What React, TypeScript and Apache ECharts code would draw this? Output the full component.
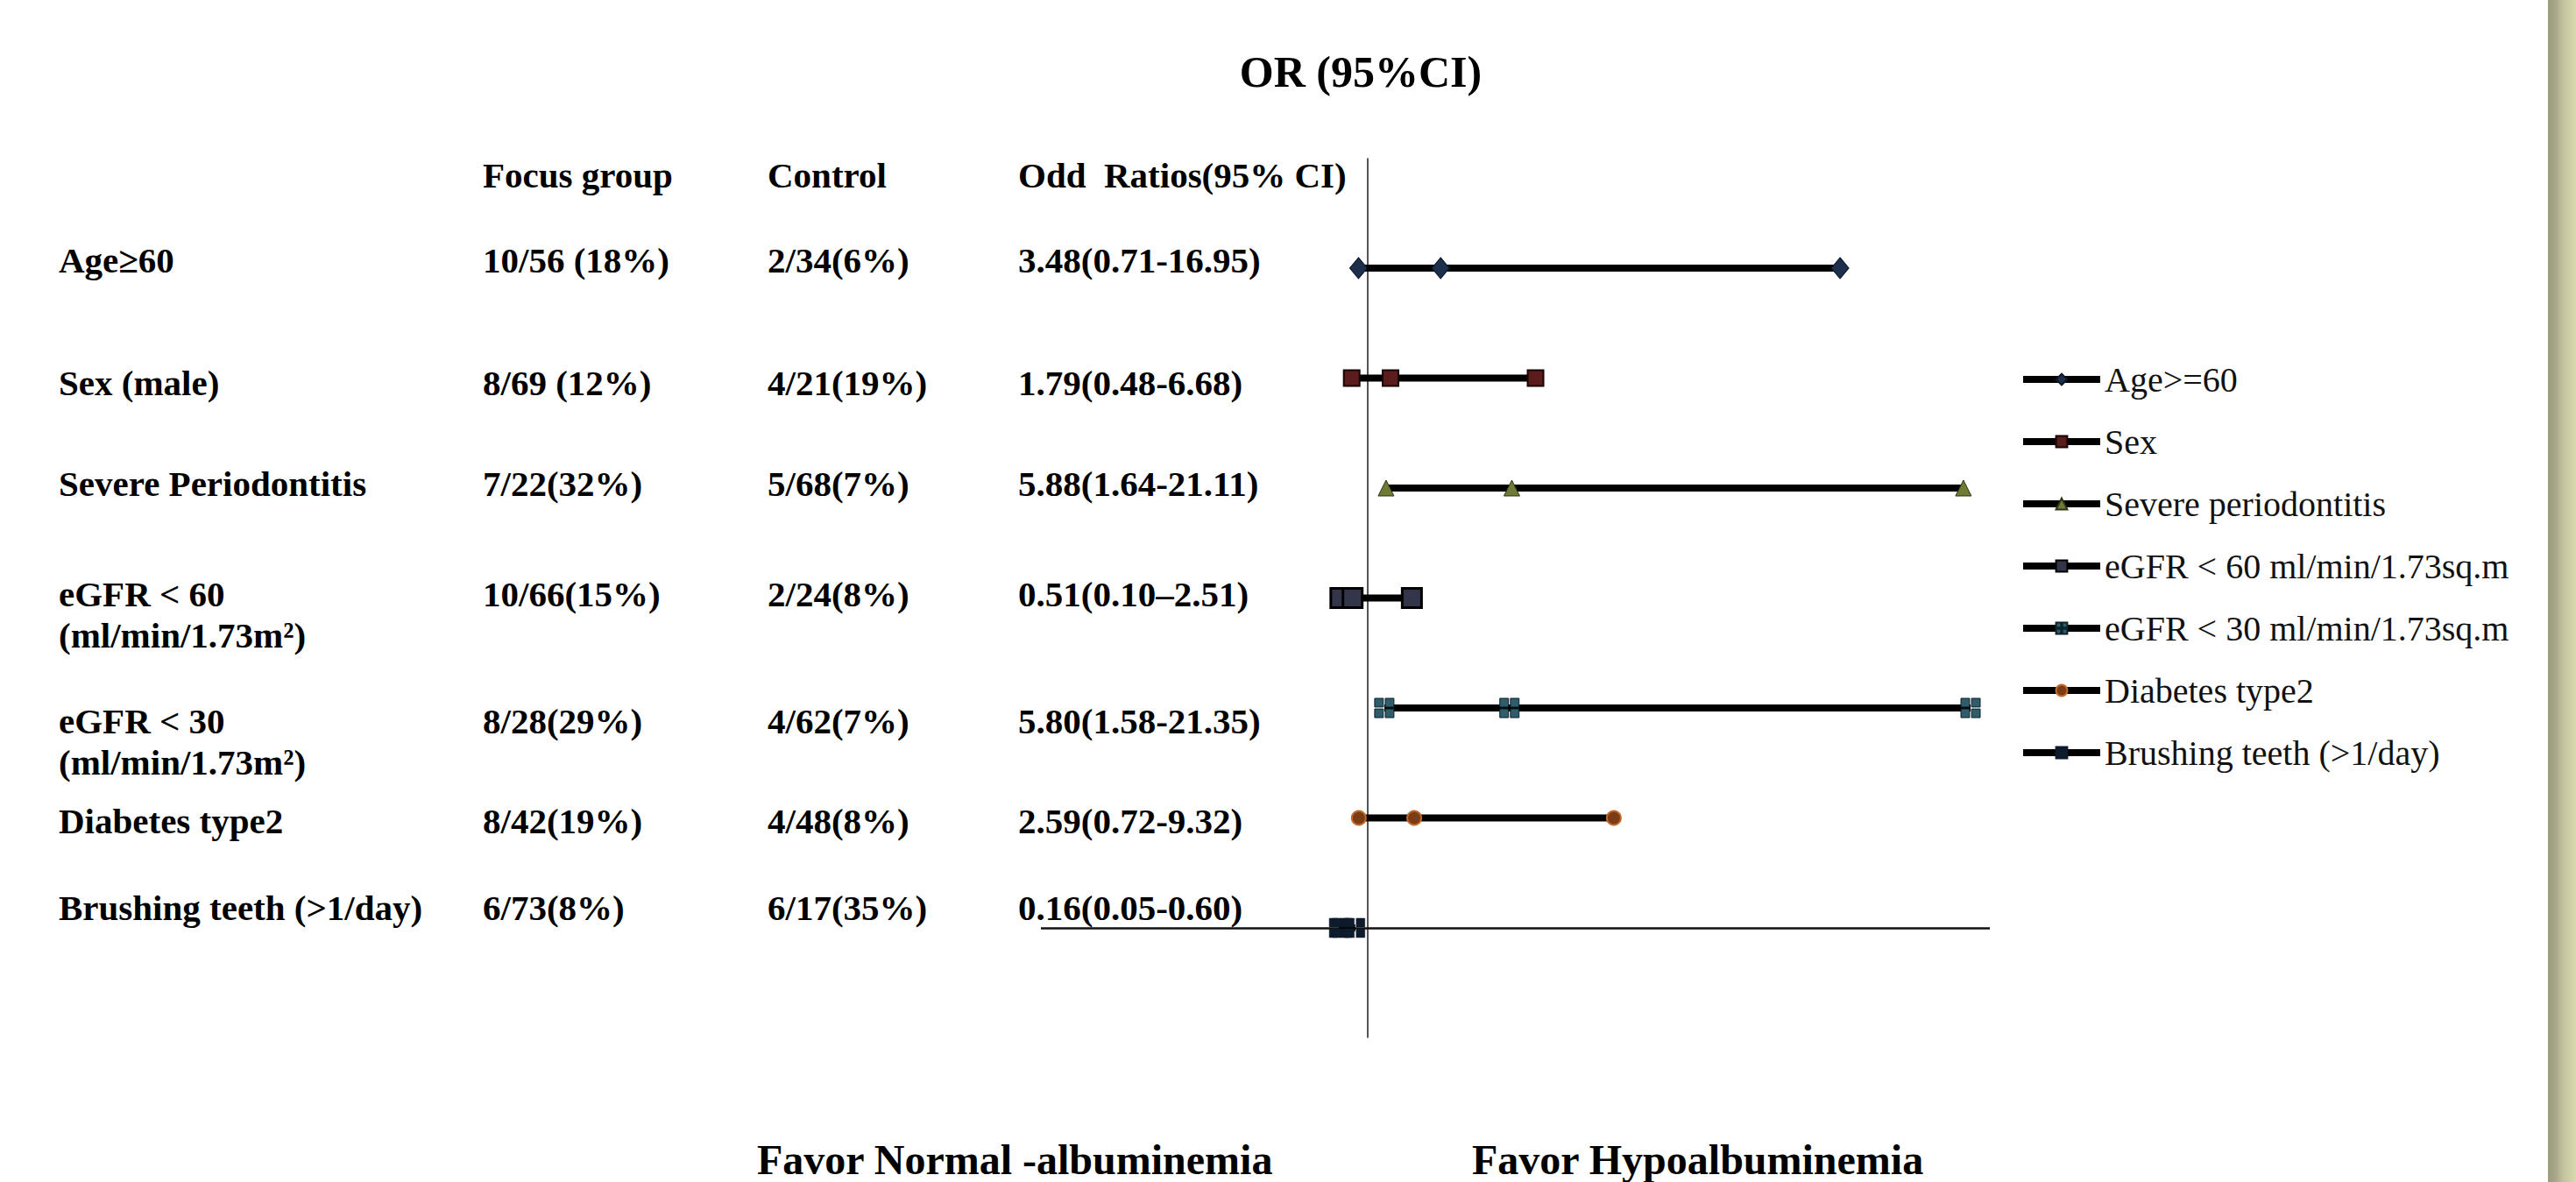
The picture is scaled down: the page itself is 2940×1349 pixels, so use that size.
import React, { useEffect, useRef } from "react";
import * as echarts from "echarts";

// ---- data ----
const rowLabels = [
  "Age≥60",
  "Sex (male)",
  "Severe Periodontitis",
  "eGFR < 60",
  "eGFR < 30",
  "Diabetes type2",
  "Brushing teeth (>1/day)",
];
const rowSubLabels = ["", "", "", "(ml/min/1.73m²)", "(ml/min/1.73m²)", "", ""];
const focusGroup = ["10/56 (18%)", "8/69 (12%)", "7/22(32%)", "10/66(15%)", "8/28(29%)", "8/42(19%)", "6/73(8%)"];
const control = ["2/34(6%)", "4/21(19%)", "5/68(7%)", "2/24(8%)", "4/62(7%)", "4/48(8%)", "6/17(35%)"];
const oddsRatio = [3.48, 1.79, 5.88, 0.51, 5.8, 2.59, 0.16];
const ciLower = [0.71, 0.48, 1.64, 0.1, 1.58, 0.72, 0.05];
const ciUpper = [16.95, 6.68, 21.11, 2.51, 21.35, 9.32, 0.6];
const ciSep = ["-", "-", "-", "–", "-", "-", "-"];
const legendNames = [
  "Age>=60",
  "Sex",
  "Severe periodontitis",
  "eGFR < 60 ml/min/1.73sq.m",
  "eGFR < 30 ml/min/1.73sq.m",
  "Diabetes type2",
  "Brushing teeth (>1/day)",
];
const columnHeaders = ["Focus group", "Control", "Odd  Ratios(95% CI)"];
const titleText = "OR (95%CI)";
const favorLeft = "Favor Normal -albuminemia";
const favorRight = "Favor Hypoalbuminemia";
const xMin = -10;
const xMax = 22;
const refValue = 1;

// ---- styles (not data) ----
const fourBlocks = "path://M0,0h9v9h-9zM11,0h9v9h-9zM0,11h9v9h-9zM11,11h9v9h-9z";
const markerStyles = [
  { symbol: "diamond", size: [20, 24], color: "#1c2f4d", border: "#0b1526", bw: 1 },
  { symbol: "rect", size: 18, color: "#5a1c1c", border: "#1a0505", bw: 2 },
  { symbol: "triangle", size: 18, color: "#6f7a35", border: "#2c3312", bw: 1 },
  { symbol: "rect", size: 22, color: "#33364a", border: "#000000", bw: 3 },
  { symbol: fourBlocks, size: 22, color: "#2f5d6b", border: "#0d2128", bw: 1 },
  { symbol: "circle", size: 16, color: "#7a3d16", border: "#c26a2c", bw: 2 },
  { symbol: fourBlocks, size: 22, color: "#0e1b2c", border: "#0e1b2c", bw: 0.5 },
];

const colX = [67, 551, 876, 1162];
const headerY = 200;
const rowTextY = [297, 437, 552, 678, 823, 937, 1036];
const subLineDy = 47;

const FONT = "Liberation Serif";

export default function App() {
  const ref = useRef<HTMLDivElement>(null);

  useEffect(() => {
    if (!ref.current) return;
    const chart = echarts.init(ref.current, undefined, { renderer: "svg" });

    const yCats = [" ", ...rowLabels, "  "];

    const series: any[] = rowLabels.map((lab, i) => {
      const m = markerStyles[i];
      const s: any = {
        name: legendNames[i],
        type: "line",
        data: [
          [ciLower[i], lab],
          [oddsRatio[i], lab],
          [ciUpper[i], lab],
        ],
        symbol: m.symbol,
        symbolSize: m.size,
        showAllSymbol: true,
        itemStyle: { color: m.color, borderColor: m.border, borderWidth: m.bw },
        lineStyle: { color: "#000000", width: 8 },
        z: 3,
      };
      if (i === 0) {
        s.markLine = {
          silent: true,
          symbol: "none",
          label: { show: false },
          z: 1,
          data: [
            { xAxis: refValue, lineStyle: { color: "#555555", width: 2, type: "solid" } },
            { yAxis: rowLabels[rowLabels.length - 1], lineStyle: { color: "#111111", width: 2.5, type: "solid" } },
          ],
        };
      }
      return s;
    });

    const textEl = (text: string, x: number, y: number, size: number, bold = true, align = "left") => ({
      type: "text",
      x,
      y,
      silent: true,
      style: {
        text,
        fontFamily: FONT,
        fontSize: size,
        fontWeight: bold ? "bold" : "normal",
        fill: "#000000",
        align,
        verticalAlign: "middle",
      },
    });

    const graphics: any[] = [];
    graphics.push(textEl(titleText, 1553, 82, 50, true, "center"));
    columnHeaders.forEach((h, j) => graphics.push(textEl(h, colX[j + 1], headerY, 41)));
    rowLabels.forEach((lab, i) => {
      const y = rowTextY[i];
      graphics.push(textEl(lab, colX[0], y, 41));
      if (rowSubLabels[i]) graphics.push(textEl(rowSubLabels[i], colX[0], y + subLineDy, 41));
      graphics.push(textEl(focusGroup[i], colX[1], y, 41));
      graphics.push(textEl(control[i], colX[2], y, 41));
      const orTxt = `${oddsRatio[i].toFixed(2)}(${ciLower[i].toFixed(2)}${ciSep[i]}${ciUpper[i].toFixed(2)})`;
      graphics.push(textEl(orTxt, colX[3], y, 41));
    });
    graphics.push(textEl(favorLeft, 864, 1323, 48));
    graphics.push(textEl(favorRight, 1680, 1323, 48));
    graphics.push({
      type: "rect",
      silent: true,
      shape: { x: 2908, y: 0, width: 32, height: 1349 },
      style: {
        fill: new echarts.graphic.LinearGradient(0, 0, 1, 0, [
          { offset: 0, color: "#9b9b7d" },
          { offset: 0.28, color: "#a9a989" },
          { offset: 0.55, color: "#c3c39f" },
          { offset: 1, color: "#d9daad" },
        ]),
      },
    });

    chart.setOption({
      animation: false,
      backgroundColor: "#ffffff",
      grid: { left: 1188, right: 2940 - 2271, top: 180.5, bottom: 1349 - 1184.5, containLabel: false },
      xAxis: {
        type: "value",
        min: xMin,
        max: xMax,
        show: false,
        splitLine: { show: false },
      },
      yAxis: {
        type: "category",
        data: yCats,
        inverse: true,
        boundaryGap: false,
        show: false,
        splitLine: { show: false },
      },
      legend: {
        orient: "vertical",
        left: 2305,
        top: 413,
        padding: 0,
        itemWidth: 88,
        itemHeight: 16,
        itemGap: 31,
        selectedMode: false,
        data: legendNames,
        lineStyle: { width: 8, color: "#000000" },
        textStyle: { fontFamily: FONT, fontSize: 40, color: "#111111", lineHeight: 40 },
      },
      graphic: graphics,
      series,
    });

    return () => chart.dispose();
  }, []);

  return (
    <div
      ref={ref}
      style={{ position: "fixed", left: 0, top: 0, width: 2940, height: 1349, background: "#ffffff" }}
    />
  );
}
